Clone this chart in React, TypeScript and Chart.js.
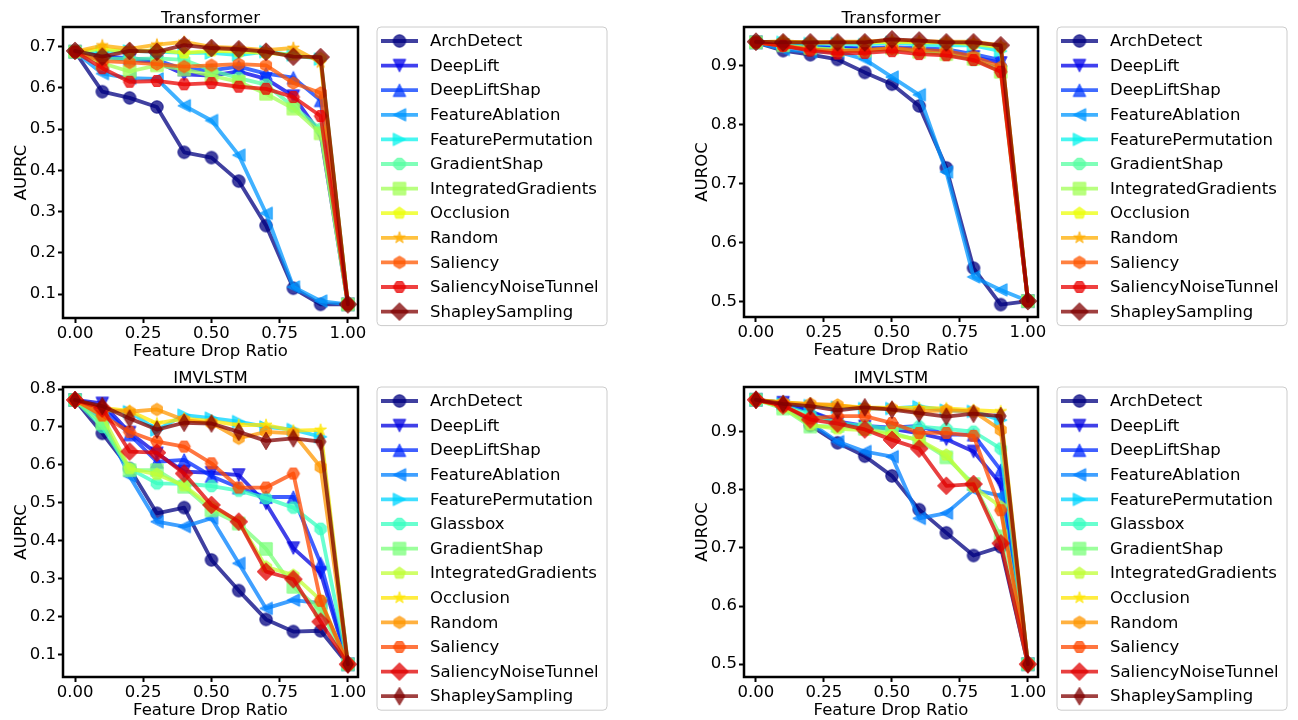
import React, { useEffect, useRef } from "react";
import { Chart, registerables } from "chart.js";

Chart.register(...registerables);

// ---------------- data ----------------
const dropRatios = [0, 0.1, 0.2, 0.3, 0.4, 0.5, 0.6, 0.7, 0.8, 0.9, 1.0];
const xTickValues = [0, 0.25, 0.5, 0.75, 1.0];

const transformerMethods = [
  "ArchDetect", "DeepLift", "DeepLiftShap", "FeatureAblation", "FeaturePermutation",
  "GradientShap", "IntegratedGradients", "Occlusion", "Random", "Saliency",
  "SaliencyNoiseTunnel", "ShapleySampling",
];
const transformerMarkers = ["o", "v", "^", "<", ">", "8", "s", "p", "*", "h", "H", "D"];

const imvlstmMethods = [
  "ArchDetect", "DeepLift", "DeepLiftShap", "FeatureAblation", "FeaturePermutation",
  "Glassbox", "GradientShap", "IntegratedGradients", "Occlusion", "Random", "Saliency",
  "SaliencyNoiseTunnel", "ShapleySampling",
];
const imvlstmMarkers = ["o", "v", "^", "<", ">", "8", "s", "p", "*", "h", "H", "D", "d"];

// Transformer – AUPRC (rows follow transformerMethods)
const transformerAuprc = [
  [0.688, 0.591, 0.576, 0.554, 0.444, 0.431, 0.374, 0.266, 0.114, 0.075, 0.075],
  [0.688, 0.676, 0.668, 0.663, 0.633, 0.630, 0.640, 0.622, 0.580, 0.488, 0.075],
  [0.688, 0.678, 0.672, 0.668, 0.645, 0.643, 0.652, 0.635, 0.625, 0.570, 0.075],
  [0.688, 0.635, 0.624, 0.622, 0.557, 0.521, 0.437, 0.296, 0.117, 0.083, 0.075],
  [0.688, 0.688, 0.690, 0.688, 0.685, 0.685, 0.680, 0.688, 0.680, 0.670, 0.075],
  [0.688, 0.672, 0.670, 0.672, 0.668, 0.643, 0.624, 0.608, 0.555, 0.500, 0.075],
  [0.688, 0.660, 0.640, 0.655, 0.645, 0.630, 0.615, 0.586, 0.550, 0.490, 0.075],
  [0.688, 0.695, 0.688, 0.692, 0.685, 0.690, 0.688, 0.685, 0.680, 0.672, 0.075],
  [0.688, 0.703, 0.695, 0.705, 0.712, 0.700, 0.697, 0.692, 0.697, 0.662, 0.075],
  [0.688, 0.665, 0.662, 0.658, 0.652, 0.655, 0.658, 0.655, 0.612, 0.588, 0.075],
  [0.688, 0.648, 0.615, 0.617, 0.609, 0.612, 0.603, 0.598, 0.578, 0.532, 0.075],
  [0.690, 0.676, 0.690, 0.688, 0.704, 0.697, 0.694, 0.688, 0.676, 0.675, 0.075],
];

// Transformer – AUROC
const transformerAuroc = [
  [0.940, 0.926, 0.919, 0.911, 0.889, 0.869, 0.832, 0.727, 0.557, 0.495, 0.501],
  [0.940, 0.935, 0.932, 0.930, 0.928, 0.930, 0.927, 0.925, 0.915, 0.905, 0.501],
  [0.940, 0.936, 0.933, 0.931, 0.930, 0.932, 0.930, 0.928, 0.920, 0.910, 0.501],
  [0.940, 0.928, 0.924, 0.924, 0.911, 0.881, 0.851, 0.720, 0.542, 0.520, 0.501],
  [0.940, 0.940, 0.938, 0.938, 0.936, 0.940, 0.936, 0.935, 0.935, 0.925, 0.501],
  [0.940, 0.935, 0.930, 0.928, 0.925, 0.928, 0.925, 0.920, 0.910, 0.895, 0.501],
  [0.940, 0.935, 0.930, 0.927, 0.926, 0.930, 0.924, 0.920, 0.912, 0.890, 0.501],
  [0.940, 0.941, 0.940, 0.940, 0.940, 0.941, 0.940, 0.940, 0.937, 0.932, 0.501],
  [0.940, 0.942, 0.939, 0.941, 0.941, 0.944, 0.942, 0.941, 0.941, 0.935, 0.501],
  [0.940, 0.934, 0.928, 0.925, 0.927, 0.930, 0.927, 0.925, 0.916, 0.898, 0.501],
  [0.940, 0.934, 0.926, 0.921, 0.922, 0.925, 0.920, 0.918, 0.910, 0.890, 0.501],
  [0.941, 0.940, 0.940, 0.940, 0.940, 0.945, 0.943, 0.940, 0.940, 0.935, 0.501],
];

// IMVLSTM – AUPRC (rows follow imvlstmMethods)
const imvlstmAuprc = [
  [0.771, 0.683, 0.590, 0.472, 0.487, 0.349, 0.268, 0.192, 0.160, 0.162, 0.0735],
  [0.771, 0.762, 0.685, 0.630, 0.582, 0.579, 0.573, 0.498, 0.380, 0.315, 0.0735],
  [0.771, 0.752, 0.680, 0.608, 0.613, 0.570, 0.540, 0.515, 0.515, 0.340, 0.0735],
  [0.771, 0.720, 0.570, 0.450, 0.437, 0.459, 0.340, 0.221, 0.243, 0.235, 0.0735],
  [0.771, 0.745, 0.740, 0.692, 0.731, 0.723, 0.714, 0.700, 0.693, 0.674, 0.0735],
  [0.771, 0.700, 0.590, 0.551, 0.550, 0.544, 0.532, 0.512, 0.487, 0.431, 0.0735],
  [0.771, 0.710, 0.586, 0.586, 0.542, 0.480, 0.445, 0.378, 0.278, 0.217, 0.0735],
  [0.771, 0.730, 0.590, 0.575, 0.545, 0.490, 0.450, 0.331, 0.309, 0.243, 0.0735],
  [0.771, 0.750, 0.742, 0.709, 0.722, 0.715, 0.705, 0.705, 0.690, 0.692, 0.0735],
  [0.771, 0.745, 0.740, 0.746, 0.718, 0.710, 0.670, 0.687, 0.683, 0.594, 0.0735],
  [0.771, 0.730, 0.687, 0.661, 0.648, 0.604, 0.540, 0.540, 0.577, 0.241, 0.0735],
  [0.771, 0.749, 0.635, 0.632, 0.577, 0.494, 0.450, 0.318, 0.298, 0.186, 0.0735],
  [0.771, 0.755, 0.722, 0.693, 0.711, 0.709, 0.687, 0.663, 0.670, 0.661, 0.0735],
];

// IMVLSTM – AUROC
const imvlstmAuroc = [
  [0.955, 0.946, 0.911, 0.881, 0.858, 0.824, 0.766, 0.726, 0.687, 0.702, 0.500],
  [0.955, 0.950, 0.935, 0.915, 0.909, 0.905, 0.897, 0.887, 0.866, 0.810, 0.500],
  [0.955, 0.950, 0.935, 0.918, 0.910, 0.907, 0.910, 0.895, 0.895, 0.834, 0.500],
  [0.955, 0.945, 0.915, 0.883, 0.866, 0.857, 0.751, 0.760, 0.800, 0.790, 0.500],
  [0.955, 0.948, 0.945, 0.942, 0.940, 0.940, 0.943, 0.937, 0.935, 0.920, 0.500],
  [0.955, 0.945, 0.930, 0.915, 0.910, 0.905, 0.909, 0.905, 0.900, 0.871, 0.500],
  [0.955, 0.940, 0.909, 0.910, 0.905, 0.898, 0.885, 0.856, 0.810, 0.720, 0.500],
  [0.955, 0.942, 0.912, 0.905, 0.903, 0.895, 0.886, 0.860, 0.805, 0.771, 0.500],
  [0.955, 0.951, 0.947, 0.945, 0.942, 0.941, 0.941, 0.940, 0.937, 0.935, 0.500],
  [0.955, 0.950, 0.948, 0.946, 0.940, 0.940, 0.935, 0.937, 0.935, 0.903, 0.500],
  [0.955, 0.945, 0.923, 0.927, 0.927, 0.915, 0.898, 0.898, 0.893, 0.765, 0.500],
  [0.955, 0.945, 0.921, 0.914, 0.904, 0.886, 0.871, 0.807, 0.810, 0.708, 0.500],
  [0.955, 0.948, 0.944, 0.937, 0.942, 0.938, 0.932, 0.926, 0.931, 0.927, 0.500],
];

const auprcTransformerTicks = [0.1, 0.2, 0.3, 0.4, 0.5, 0.6, 0.7];
const aurocTicks = [0.5, 0.6, 0.7, 0.8, 0.9];
const auprcImvlstmTicks = [0.1, 0.2, 0.3, 0.4, 0.5, 0.6, 0.7, 0.8];

// ---------------- styling ----------------
const FONT = "'DejaVu Sans', sans-serif";
const FS = 16.5;
const ALPHA = 0.75;
const MS = 12.5;
const LW = 3.8;
const CW = 649;
const CH = 360;
const YW = 50;
const X_MIN = -0.044;
const X_MAX = 1.037;

type RGB = [number, number, number];

function interp(pts: number[][], t: number): number {
  for (let k = 0; k < pts.length - 1; k++) {
    const [x0, y0] = pts[k];
    const [x1, y1] = pts[k + 1];
    if (t >= x0 && t <= x1) return x1 === x0 ? y1 : y0 + ((t - x0) / (x1 - x0)) * (y1 - y0);
  }
  return pts[pts.length - 1][1];
}

function jet(t: number): RGB {
  const r = interp([[0, 0], [0.35, 0], [0.66, 1], [0.89, 1], [1, 0.5]], t);
  const g = interp([[0, 0], [0.125, 0], [0.375, 1], [0.64, 1], [0.91, 0], [1, 0]], t);
  const b = interp([[0, 0.5], [0.11, 1], [0.34, 1], [0.65, 0], [1, 0]], t);
  return [Math.round(r * 255), Math.round(g * 255), Math.round(b * 255)];
}

const rgba = (c: RGB, a: number) => `rgba(${c[0]},${c[1]},${c[2]},${a})`;

function makeMarker(shape: string, color: string): HTMLCanvasElement {
  const size = 26;
  const c = document.createElement("canvas");
  c.width = size;
  c.height = size;
  const ctx = c.getContext("2d")!;
  ctx.translate(size / 2, size / 2);
  const r = MS / 2;
  const d = r * Math.SQRT2;
  let pts: number[][] = [];
  const poly = (n: number, rot: number, rad: number) => {
    for (let k = 0; k < n; k++) {
      const a = rot + (2 * Math.PI * k) / n - Math.PI / 2;
      pts.push([rad * Math.cos(a), rad * Math.sin(a)]);
    }
  };
  ctx.beginPath();
  switch (shape) {
    case "o":
      ctx.arc(0, 0, r, 0, Math.PI * 2);
      break;
    case "^": pts = [[0, -r], [-r, r], [r, r]]; break;
    case "v": pts = [[0, r], [-r, -r], [r, -r]]; break;
    case "<": pts = [[-r, 0], [r, -r], [r, r]]; break;
    case ">": pts = [[r, 0], [-r, -r], [-r, r]]; break;
    case "8": poly(8, Math.PI / 8, r); break;
    case "s": pts = [[-r, -r], [r, -r], [r, r], [-r, r]]; break;
    case "p": poly(5, 0, r); break;
    case "h": poly(6, 0, r); break;
    case "H": poly(6, Math.PI / 6, r); break;
    case "*":
      for (let k = 0; k < 10; k++) {
        const a = (Math.PI * k) / 5 - Math.PI / 2;
        const rad = k % 2 === 0 ? r : r * 0.381966;
        pts.push([rad * Math.cos(a), rad * Math.sin(a)]);
      }
      break;
    case "D": pts = [[0, -d], [d, 0], [0, d], [-d, 0]]; break;
    case "d": pts = [[0, -d], [0.6 * d, 0], [0, d], [-0.6 * d, 0]]; break;
  }
  if (pts.length) {
    ctx.moveTo(pts[0][0], pts[0][1]);
    for (let k = 1; k < pts.length; k++) ctx.lineTo(pts[k][0], pts[k][1]);
    ctx.closePath();
  }
  ctx.fillStyle = color;
  ctx.strokeStyle = color;
  ctx.lineWidth = 1;
  ctx.fill();
  ctx.stroke();
  return c;
}

type PanelSpec = {
  x: number;
  y: number;
  ca: { left: number; right: number; top: number; bottom: number };
  title: string;
  yLabel: string;
  methods: string[];
  markers: string[];
  series: number[][];
  yMin: number;
  yMax: number;
  yTicks: number[];
};

const panels: PanelSpec[] = [
  {
    x: 0, y: 0, ca: { left: 63, right: 358, top: 27, bottom: 318 },
    title: "Transformer", yLabel: "AUPRC", methods: transformerMethods, markers: transformerMarkers,
    series: transformerAuprc, yMin: 0.0418, yMax: 0.748, yTicks: auprcTransformerTicks,
  },
  {
    x: 649, y: 0, ca: { left: 95, right: 389, top: 27, bottom: 317 },
    title: "Transformer", yLabel: "AUROC", methods: transformerMethods, markers: transformerMarkers,
    series: transformerAuroc, yMin: 0.474, yMax: 0.966, yTicks: aurocTicks,
  },
  {
    x: 0, y: 360, ca: { left: 63, right: 358, top: 27, bottom: 317 },
    title: "IMVLSTM", yLabel: "AUPRC", methods: imvlstmMethods, markers: imvlstmMarkers,
    series: imvlstmAuprc, yMin: 0.040, yMax: 0.8053, yTicks: auprcImvlstmTicks,
  },
  {
    x: 649, y: 360, ca: { left: 95, right: 389, top: 27, bottom: 317 },
    title: "IMVLSTM", yLabel: "AUROC", methods: imvlstmMethods, markers: imvlstmMarkers,
    series: imvlstmAuroc, yMin: 0.478, yMax: 0.977, yTicks: aurocTicks,
  },
];

function buildConfig(spec: PanelSpec): any {
  const n = spec.methods.length;
  const colors = spec.methods.map((_, i) => jet(i / (n - 1)));
  const col = colors.map((c) => rgba(c, ALPHA));
  const markerImgs = spec.markers.map((m, i) => makeMarker(m, col[i]));

  const datasets = spec.series.map((vals, i) => ({
    label: spec.methods[i],
    data: dropRatios.map((x, j) => ({ x, y: vals[j] })),
    borderColor: col[i],
    backgroundColor: col[i],
    borderWidth: LW,
    pointStyle: markerImgs[i],
    pointRadius: 6,
    pointHoverRadius: 6,
    order: n - i,
    tension: 0,
    fill: false,
    borderJoinStyle: "round",
    borderCapStyle: "round",
  }));

  const decor = {
    id: "decor",
    afterDraw(chart: any) {
      const ctx = chart.ctx as CanvasRenderingContext2D;
      const ca = chart.chartArea;
      ctx.save();
      // spines
      ctx.strokeStyle = "#000";
      ctx.lineWidth = 2.5;
      ctx.strokeRect(ca.left, ca.top, ca.right - ca.left, ca.bottom - ca.top);
      // title
      ctx.fillStyle = "#000";
      ctx.font = `${FS}px ${FONT}`;
      ctx.textAlign = "center";
      ctx.textBaseline = "alphabetic";
      ctx.fillText(spec.title, (ca.left + ca.right) / 2, ca.top - 4);
      // x label
      ctx.fillText("Feature Drop Ratio", (ca.left + ca.right) / 2, ca.bottom + 37.5);
      // y label
      ctx.save();
      ctx.translate(ca.left - 37, (ca.top + ca.bottom) / 2);
      ctx.rotate(-Math.PI / 2);
      ctx.fillText(spec.yLabel, 0, 0);
      ctx.restore();
      // legend
      const lx = ca.right + 19;
      const ly = ca.top;
      const lw = 230;
      const sp = 24.6;
      const lh = (n - 1) * sp + 28;
      ctx.beginPath();
      const rr = 4;
      ctx.moveTo(lx + rr, ly);
      ctx.lineTo(lx + lw - rr, ly);
      ctx.arcTo(lx + lw, ly, lx + lw, ly + rr, rr);
      ctx.lineTo(lx + lw, ly + lh - rr);
      ctx.arcTo(lx + lw, ly + lh, lx + lw - rr, ly + lh, rr);
      ctx.lineTo(lx + rr, ly + lh);
      ctx.arcTo(lx, ly + lh, lx, ly + lh - rr, rr);
      ctx.lineTo(lx, ly + rr);
      ctx.arcTo(lx, ly, lx + rr, ly, rr);
      ctx.closePath();
      ctx.fillStyle = "rgba(255,255,255,0.8)";
      ctx.fill();
      ctx.strokeStyle = "#cccccc";
      ctx.lineWidth = 1;
      ctx.stroke();
      ctx.textAlign = "left";
      ctx.textBaseline = "middle";
      for (let i = 0; i < n; i++) {
        const cy = ly + 14 + i * sp;
        ctx.strokeStyle = col[i];
        ctx.lineWidth = LW;
        ctx.beginPath();
        ctx.moveTo(lx + 4, cy);
        ctx.lineTo(lx + 41, cy);
        ctx.stroke();
        const img = markerImgs[i];
        ctx.drawImage(img, lx + 22.5 - img.width / 2, cy - img.height / 2);
        ctx.fillStyle = "#000";
        ctx.fillText(spec.methods[i], lx + 53, cy + 1);
      }
      ctx.restore();
    },
  };

  const gridOpts = {
    display: true,
    drawOnChartArea: false,
    drawTicks: true,
    tickLength: 5,
    tickWidth: 2,
    tickColor: "#000",
    color: "#000",
  };

  return {
    type: "line",
    data: { datasets },
    plugins: [decor],
    options: {
      animation: false,
      responsive: false,
      maintainAspectRatio: false,
      events: [],
      layout: {
        padding: { left: spec.ca.left - YW, top: spec.ca.top, right: CW - spec.ca.right, bottom: 0 },
      },
      plugins: {
        legend: { display: false },
        tooltip: { enabled: false },
        title: { display: false },
      },
      scales: {
        x: {
          type: "linear",
          min: X_MIN,
          max: X_MAX,
          afterBuildTicks: (s: any) => {
            s.ticks = xTickValues.map((v) => ({ value: v }));
          },
          afterFit: (s: any) => {
            s.height = CH - spec.ca.bottom;
          },
          grid: gridOpts,
          border: { display: false },
          ticks: {
            color: "#000",
            font: { family: FONT, size: FS },
            padding: 1,
            maxRotation: 0,
            autoSkip: false,
            callback: (v: any) => Number(v).toFixed(2),
          },
        },
        y: {
          type: "linear",
          min: spec.yMin,
          max: spec.yMax,
          afterBuildTicks: (s: any) => {
            s.ticks = spec.yTicks.map((v) => ({ value: v }));
          },
          afterFit: (s: any) => {
            s.width = YW;
          },
          grid: gridOpts,
          border: { display: false },
          ticks: {
            color: "#000",
            font: { family: FONT, size: FS },
            padding: 2,
            autoSkip: false,
            callback: (v: any) => Number(v).toFixed(1),
          },
        },
      },
    },
  };
}

function Panel({ spec }: { spec: PanelSpec }) {
  const ref = useRef<HTMLCanvasElement>(null);
  useEffect(() => {
    if (!ref.current) return;
    const chart = new Chart(ref.current, buildConfig(spec));
    return () => chart.destroy();
  }, [spec]);
  return (
    <canvas
      ref={ref}
      width={CW}
      height={CH}
      style={{ position: "absolute", left: spec.x, top: spec.y, width: CW, height: CH }}
    />
  );
}

export default function App() {
  return (
    <div style={{ position: "absolute", left: 0, top: 0, width: 1298, height: 720, background: "#fff" }}>
      {panels.map((p, i) => (
        <Panel key={i} spec={p} />
      ))}
    </div>
  );
}
